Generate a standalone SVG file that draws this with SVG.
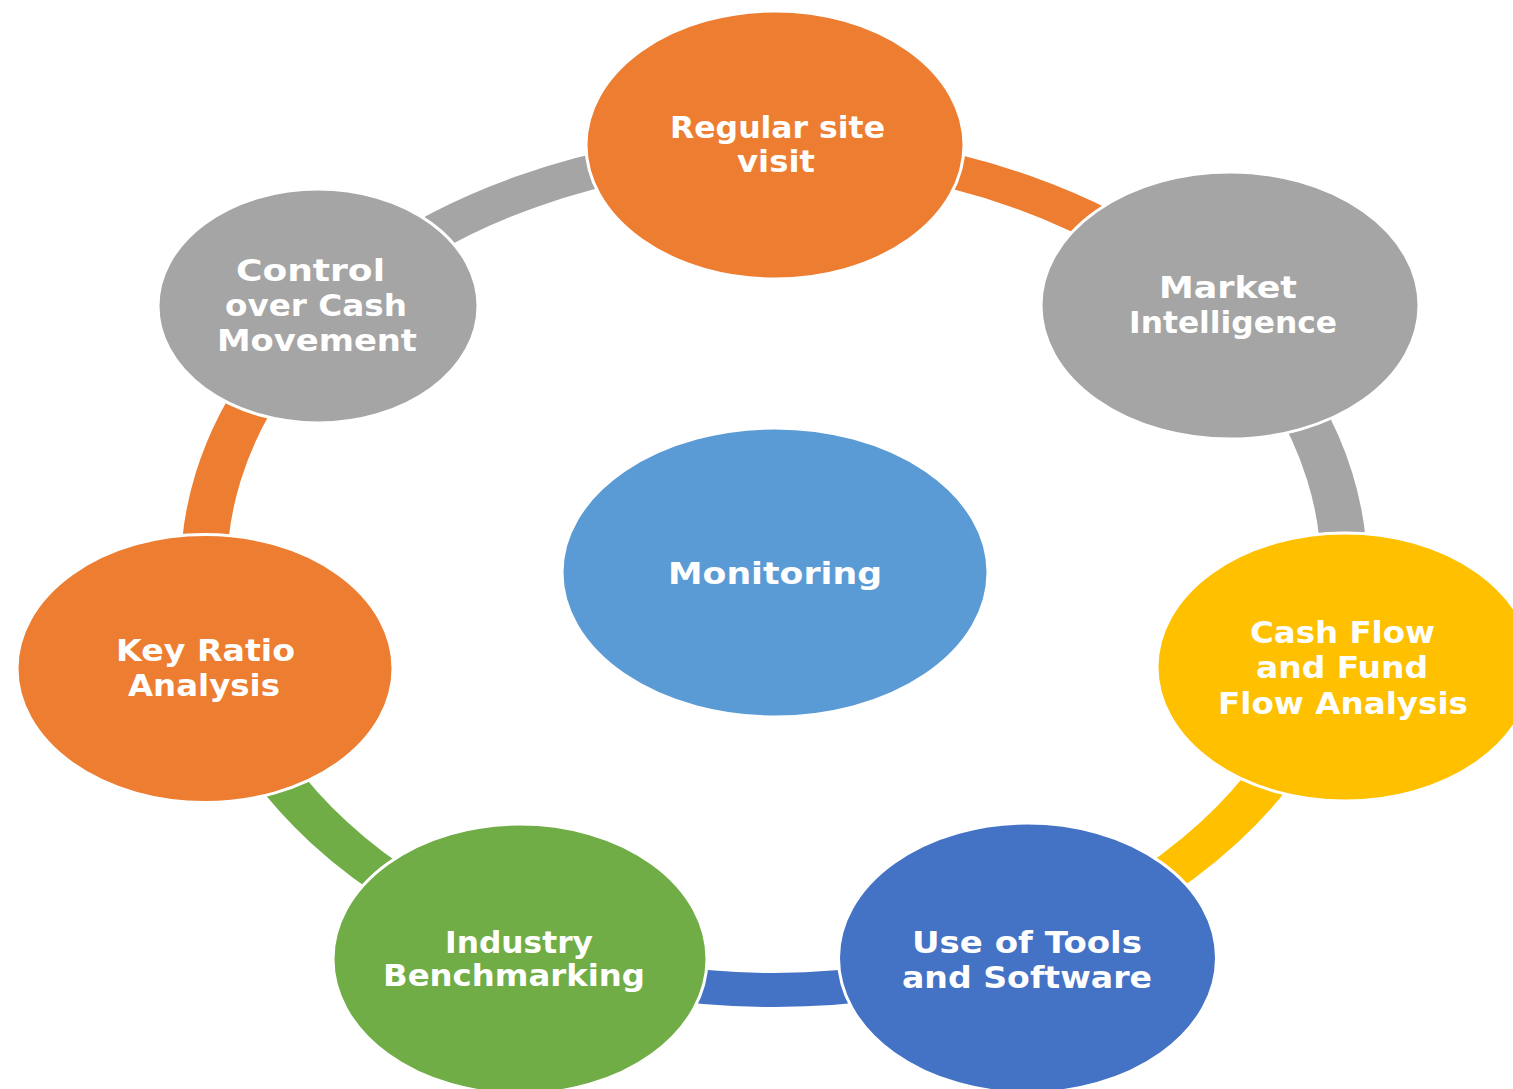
<svg xmlns="http://www.w3.org/2000/svg" width="1513" height="1089" viewBox="0 0 1513 1089">
<style>
  .node { stroke: #ffffff; stroke-width: 3; }
  .orange { fill: #ED7D31; }
  .gray { fill: #A5A5A5; }
  .yellow { fill: #FFC000; }
  .blue { fill: #4472C4; }
  .green { fill: #70AD47; }
  .center { fill: #5B9BD5; }
  .arc { fill: none; stroke-width: 34; }
  .lbl { font-family: "DejaVu Sans", Verdana, sans-serif; font-weight: bold; font-size: 31px; fill: #ffffff; }
</style>
<rect width="1513" height="1089" fill="#ffffff"/>
<g id="connectors" transform="translate(774 570) scale(1.357 1)">
  <path class="arc" stroke="#ED7D31" d="M 0 -420 A 420 420 0 0 1 328.4 -261.9"/>
  <path class="arc" stroke="#A5A5A5" d="M 328.4 -261.9 A 420 420 0 0 1 409.5 93.5"/>
  <path class="arc" stroke="#FFC000" d="M 409.5 93.5 A 420 420 0 0 1 182.2 378.4"/>
  <path class="arc" stroke="#4472C4" d="M 182.2 378.4 A 420 420 0 0 1 -182.2 378.4"/>
  <path class="arc" stroke="#70AD47" d="M -182.2 378.4 A 420 420 0 0 1 -409.5 93.5"/>
  <path class="arc" stroke="#ED7D31" d="M -409.5 93.5 A 420 420 0 0 1 -328.4 -261.9"/>
  <path class="arc" stroke="#A5A5A5" d="M -328.4 -261.9 A 420 420 0 0 1 0 -420"/>
</g>
<g id="node-monitoring">
  <ellipse class="node center" cx="775" cy="572.5" rx="213" ry="144.5"/>
  <text class="lbl" x="668" y="584" textLength="214" lengthAdjust="spacingAndGlyphs">Monitoring</text>
</g>
<g id="node-regular-site-visit">
  <ellipse class="node orange" cx="775" cy="145" rx="189" ry="134"/>
  <text class="lbl" x="670" y="138" textLength="215" lengthAdjust="spacingAndGlyphs">Regular site</text>
  <text class="lbl" x="737" y="172" textLength="78" lengthAdjust="spacingAndGlyphs">visit</text>
</g>
<g id="node-market-intelligence">
  <ellipse class="node gray" cx="1230" cy="305.5" rx="189" ry="133.5"/>
  <text class="lbl" x="1159" y="298" textLength="138" lengthAdjust="spacingAndGlyphs">Market</text>
  <text class="lbl" x="1129" y="333" textLength="208" lengthAdjust="spacingAndGlyphs">Intelligence</text>
</g>
<g id="node-cash-flow">
  <ellipse class="node yellow" cx="1345" cy="667" rx="188" ry="134"/>
  <text class="lbl" x="1250" y="643" textLength="185" lengthAdjust="spacingAndGlyphs">Cash Flow</text>
  <text class="lbl" x="1256" y="678" textLength="172" lengthAdjust="spacingAndGlyphs">and Fund</text>
  <text class="lbl" x="1218" y="714" textLength="250" lengthAdjust="spacingAndGlyphs">Flow Analysis</text>
</g>
<g id="node-tools-software">
  <ellipse class="node blue" cx="1027.5" cy="958" rx="189" ry="135"/>
  <text class="lbl" x="912" y="953" textLength="230" lengthAdjust="spacingAndGlyphs">Use of Tools</text>
  <text class="lbl" x="902" y="988" textLength="250" lengthAdjust="spacingAndGlyphs">and Software</text>
</g>
<g id="node-industry-benchmarking">
  <ellipse class="node green" cx="520" cy="959" rx="187" ry="135"/>
  <text class="lbl" x="445" y="953" textLength="148" lengthAdjust="spacingAndGlyphs">Industry</text>
  <text class="lbl" x="383" y="986" textLength="262" lengthAdjust="spacingAndGlyphs">Benchmarking</text>
</g>
<g id="node-key-ratio">
  <ellipse class="node orange" cx="205" cy="668.5" rx="188" ry="134"/>
  <text class="lbl" x="116" y="661" textLength="179" lengthAdjust="spacingAndGlyphs">Key Ratio</text>
  <text class="lbl" x="128" y="696" textLength="152" lengthAdjust="spacingAndGlyphs">Analysis</text>
</g>
<g id="node-control-cash">
  <ellipse class="node gray" cx="318" cy="306" rx="160" ry="117"/>
  <text class="lbl" x="236" y="281" textLength="149" lengthAdjust="spacingAndGlyphs">Control</text>
  <text class="lbl" x="225" y="316" textLength="182" lengthAdjust="spacingAndGlyphs">over Cash</text>
  <text class="lbl" x="217" y="351" textLength="200" lengthAdjust="spacingAndGlyphs">Movement</text>
</g>
</svg>
